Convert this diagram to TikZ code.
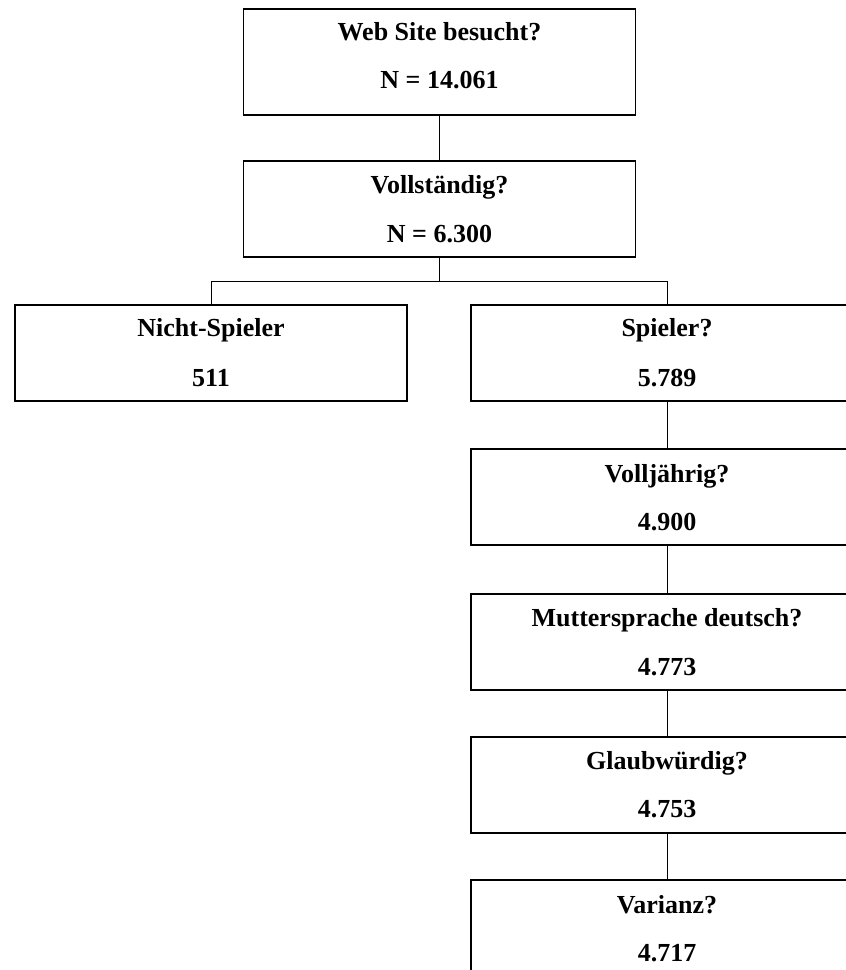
\documentclass[tikz,border=0pt]{standalone}
\usepackage{fontspec}
\setmainfont{Liberation Serif}
\begin{document}
\begin{tikzpicture}[x=1pt,y=-1pt,
  box/.style={draw, line width=1.5pt, minimum width=392pt, minimum height=96pt, inner sep=0pt, anchor=north},
  lbl/.style={font=\bfseries\fontsize{26}{30}\selectfont, anchor=base, inner sep=0pt},
  conn/.style={line width=1pt}]
\useasboundingbox (0,0) rectangle (846,970);
\clip (0,0) rectangle (846,970);
% boxes
\node[box, minimum height=106pt] (web) at (439.5,8) {};
\node[box] (voll) at (439.5,160) {};
\node[box] (nicht) at (211,304) {};
\node[box] (spieler) at (667,304) {};
\node[box] (jahr) at (667,448) {};
\node[box] (mutter) at (667,593) {};
\node[box] (glaub) at (667,736) {};
\node[box] (varianz) at (667,879) {};
% labels
\node[lbl] (webA) at ([yshift=-32pt]web.north) {Web Site besucht?};
\node[lbl] (webB) at ([yshift=27pt]web.south) {N = 14.061};
\node[lbl] (vollA) at ([yshift=-33pt]voll.north) {Vollständig?};
\node[lbl] (vollB) at ([yshift=15pt]voll.south) {N = 6.300};
\node[lbl] (nichtA) at ([yshift=-32pt]nicht.north) {Nicht-Spieler};
\node[lbl] (nichtB) at ([yshift=15pt]nicht.south) {511};
\node[lbl] (spielerA) at ([yshift=-32pt]spieler.north) {Spieler?};
\node[lbl] (spielerB) at ([yshift=15pt]spieler.south) {5.789};
\node[lbl] (jahrA) at ([yshift=-34pt]jahr.north) {Volljährig?};
\node[lbl] (jahrB) at ([yshift=15pt]jahr.south) {4.900};
\node[lbl] (mutterA) at ([yshift=-33pt]mutter.north) {Muttersprache deutsch?};
\node[lbl] (mutterB) at ([yshift=15pt]mutter.south) {4.773};
\node[lbl] (glaubA) at ([yshift=-33pt]glaub.north) {Glaubwürdig?};
\node[lbl] (glaubB) at ([yshift=16pt]glaub.south) {4.753};
\node[lbl] (varianzA) at ([yshift=-34pt]varianz.north) {Varianz?};
\node[lbl] (varianzB) at ([yshift=15pt]varianz.south) {4.717};
% connectors
\coordinate (bus) at (439.5,281);
\draw[conn] (web.south) -- (voll.north);
\draw[conn] (voll.south) -- (bus);
\draw[conn] (nicht.north) -- (nicht.north |- bus) -- (spieler.north |- bus) -- (spieler.north);
\draw[conn] (spieler.south) -- (jahr.north);
\draw[conn] (jahr.south) -- (mutter.north);
\draw[conn] (mutter.south) -- (glaub.north);
\draw[conn] (glaub.south) -- (varianz.north);
\end{tikzpicture}
\end{document}
